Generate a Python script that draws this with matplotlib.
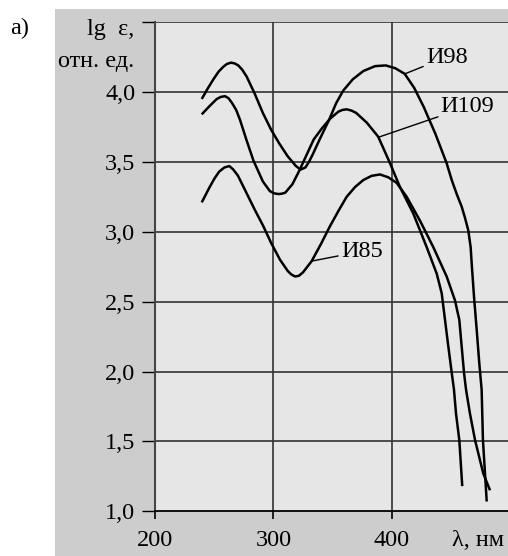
import matplotlib
matplotlib.use('Agg')
import matplotlib.pyplot as plt
from matplotlib.patches import Rectangle

# Данные (λ, нм ; lg ε)
x_i98 = [239.3, 244, 249.1, 253.5, 257.5, 260.5, 264, 267, 270.2, 273.5, 277.3, 284, 291, 298,
         305, 312, 316, 319, 323, 327, 330, 333, 339, 347, 353, 359, 367, 376, 386, 395, 403,
         411, 419, 427, 437, 446.5, 450.8, 455, 459.2, 462, 464.8, 466.8, 467.7, 469.6, 471.9,
         474.1, 476.1, 477.2, 480.4]
y_i98 = [3.95, 4.02, 4.09, 4.145, 4.18, 4.20, 4.21, 4.205, 4.19, 4.16, 4.11, 3.99, 3.85, 3.73,
         3.63, 3.54, 3.50, 3.47, 3.445, 3.46, 3.50, 3.55, 3.66, 3.80, 3.92, 4.01, 4.09, 4.15,
         4.185, 4.19, 4.17, 4.13, 4.03, 3.895, 3.70, 3.49, 3.37, 3.27, 3.18, 3.10, 3.01, 2.89,
         2.77, 2.54, 2.30, 2.06, 1.87, 1.51, 1.07]

x_i109 = [239.3, 246, 252, 255.5, 259, 262, 265, 268.5, 271.7, 277, 283, 291, 297, 300.5, 304,
          307, 310, 316, 322, 328, 334, 341, 348, 355, 358.5, 362, 366, 370, 379, 388.6, 398.6,
          407, 418.3, 429.6, 438.1, 442.3, 445.1, 447.9, 450.8, 452.7, 454.4, 457.2, 459.7]
y_i109 = [3.84, 3.90, 3.95, 3.965, 3.97, 3.955, 3.92, 3.87, 3.80, 3.66, 3.51, 3.36, 3.29,
          3.275, 3.27, 3.272, 3.28, 3.34, 3.44, 3.55, 3.66, 3.74, 3.81, 3.86, 3.872, 3.876,
          3.867, 3.85, 3.78, 3.68, 3.49, 3.32, 3.13, 2.89, 2.70, 2.56, 2.37, 2.18, 1.99, 1.87,
          1.70, 1.51, 1.18]

x_i85 = [239.3, 246, 250, 254, 258.5, 262.6, 266, 270, 277.3, 284, 291.4, 298, 305.5, 312, 315,
         318.2, 321.5, 325, 332.3, 340, 347.8, 355, 361.9, 369, 376, 383, 390.1, 397, 404.2,
         412.7, 423.9, 435.2, 446.5, 453.5, 457.2, 459.2, 461.2, 462.9, 466.2, 470.5, 477.5,
         483.2]
y_i85 = [3.21, 3.32, 3.38, 3.43, 3.46, 3.47, 3.445, 3.40, 3.275, 3.16, 3.04, 2.92, 2.80, 2.72,
         2.695, 2.68, 2.685, 2.71, 2.79, 2.91, 3.04, 3.15, 3.25, 3.32, 3.37, 3.40, 3.41, 3.39,
         3.35, 3.25, 3.08, 2.89, 2.68, 2.51, 2.37, 2.18, 1.99, 1.87, 1.70, 1.51, 1.27, 1.15]

y_ticks = [1.0, 1.5, 2.0, 2.5, 3.0, 3.5, 4.0, 4.5]
y_labels = ['1,0', '1,5', '2,0', '2,5', '3,0', '3,5', '4,0', '']
x_ticks = [200, 300, 400]
x_labels = ['200', '300', '400']

plt.rcParams['font.family'] = ['Liberation Serif', 'DejaVu Serif']
fs = 17.5

fig = plt.figure(figsize=(5.08, 5.56), dpi=100)
fig.patch.set_facecolor('white')
# серая подложка (под осями)
fig.patches.append(Rectangle((55 / 508, 0), 1 - 55 / 508, 1 - 9 / 556,
                             transform=fig.transFigure, facecolor='#cdcdcd',
                             edgecolor='none', zorder=-5))

ax = fig.add_axes([155.3 / 508, 1 - 511.3 / 556, 1 - 155.3 / 508, (511.3 - 22.1) / 556])
ax.set_zorder(1)
ax.set_facecolor('#e6e6e6')
ax.set_xlim(200, 498.4)
ax.set_ylim(1.0, 4.5)

# сетка
for yv in y_ticks[1:]:
    ax.axhline(yv, color='#222222', lw=1.1, zorder=1)
for xv in x_ticks[1:]:
    ax.axvline(xv, color='#333333', lw=1.2, zorder=1)

for xs, ys in [(x_i98, y_i98), (x_i109, y_i109), (x_i85, y_i85)]:
    ax.plot(xs, ys, color='black', lw=1.8, solid_capstyle='butt',
            solid_joinstyle='round', zorder=3)

# подписи кривых
arrow = dict(arrowstyle='-', color='black', lw=1.0, shrinkA=0, shrinkB=0)
ax.annotate('И98', xy=(411.2, 4.13), xytext=(429.0, 4.25), fontsize=fs,
            ha='left', va='center', arrowprops=arrow, zorder=4)
ax.annotate('И109', xy=(388.7, 3.676), xytext=(441.5, 3.895), fontsize=fs,
            ha='left', va='center', arrowprops=arrow, zorder=4)
ax.annotate('И85', xy=(332.3, 2.79), xytext=(357.0, 2.86), fontsize=fs,
            ha='left', va='center', arrowprops=arrow, zorder=4)

ax.set_yticks(y_ticks)
ax.set_yticklabels(y_labels)
ax.set_xticks(x_ticks)
ax.set_xticklabels(x_labels)
ax.tick_params(axis='y', length=9.5, width=1.0, pad=5, labelsize=fs, direction='out')
ax.tick_params(axis='x', length=5.5, width=1.2, pad=8, labelsize=fs, direction='out')

for s in ['top', 'right']:
    ax.spines[s].set_visible(False)
ax.spines['left'].set_color('#444444')
ax.spines['left'].set_linewidth(1.5)
ax.spines['bottom'].set_linewidth(1.3)

fig.text(10 / 508, 1 - 28 / 556, 'а)', fontsize=fs, ha='left', va='center')
fig.text(134 / 508, 1 - 30 / 556, 'lg  ε,', fontsize=fs, ha='right', va='center')
fig.text(134 / 508, 1 - 62 / 556, 'отн. ед.', fontsize=fs, ha='right', va='center')
fig.text(452 / 508, 1 - 541 / 556, 'λ, нм', fontsize=fs, ha='left', va='center')

fig.savefig('out.png', dpi=100)
